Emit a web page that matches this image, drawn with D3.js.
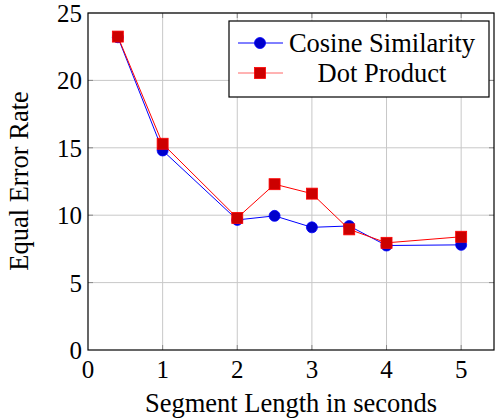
<!DOCTYPE html>
<html>
<head>
<meta charset="utf-8">
<script src="https://cdn.jsdelivr.net/npm/d3@7"></script>
<style>
body { margin: 0; background: #fff; }
text { font-family: "Liberation Serif", "DejaVu Serif", serif; fill: #000; }
</style>
</head>
<body>
<div id="chart"></div>
<script>
"use strict"
var width = 495,
	height = 419;

// data
var seglen = [0.4, 1, 2, 2.5, 3, 3.5, 4, 5];
var cosine = [23.2, 14.8, 9.65, 9.95, 9.1, 9.2, 7.75, 7.8];
var dotprod = [23.25, 15.3, 9.8, 12.3, 11.6, 8.95, 7.95, 8.4];
var xticks = [0, 1, 2, 3, 4, 5];
var yticks = [0, 5, 10, 15, 20, 25];
var names = ["Cosine Similarity", "Dot Product"];

var m = {l:88, r:494, t:13, b:350};
var fs = "25px",
	lfs = "26.5px";

var svg = d3.select("#chart").append("svg")
	.attr("width",width)
	.attr("height",height);

var x = d3.scaleLinear().domain([0,5.44]).range([m.l,m.r]);
var y = d3.scaleLinear().domain([0,25]).range([m.b,m.t]);

// grid
svg.append("g").selectAll("line").data(xticks.slice(1)).enter().append("line")
	.attr("x1",d=>x(d)).attr("x2",d=>x(d))
	.attr("y1",m.t).attr("y2",m.b)
	.style("stroke","#c8c8c8").style("stroke-width",1);
svg.append("g").selectAll("line").data(yticks.slice(1)).enter().append("line")
	.attr("x1",m.l).attr("x2",m.r)
	.attr("y1",d=>y(d)).attr("y2",d=>y(d))
	.style("stroke","#c8c8c8").style("stroke-width",1);

// inward ticks on all four sides
var tk = 5;
xticks.slice(1).forEach(function(d){
	svg.append("line").attr("x1",x(d)).attr("x2",x(d)).attr("y1",m.b).attr("y2",m.b-tk)
		.style("stroke","#888");
	svg.append("line").attr("x1",x(d)).attr("x2",x(d)).attr("y1",m.t).attr("y2",m.t+tk)
		.style("stroke","#888");
});
yticks.slice(1,-1).forEach(function(d){
	svg.append("line").attr("x1",m.l).attr("x2",m.l+tk).attr("y1",y(d)).attr("y2",y(d))
		.style("stroke","#888");
	svg.append("line").attr("x1",m.r).attr("x2",m.r-tk).attr("y1",y(d)).attr("y2",y(d))
		.style("stroke","#888");
});

// frame
svg.append("rect")
	.attr("x",m.l).attr("y",m.t)
	.attr("width",m.r-m.l).attr("height",m.b-m.t)
	.style("fill","none").style("stroke","#000").style("stroke-width",1.2);

// tick labels
svg.append("g").selectAll("text").data(xticks).enter().append("text")
	.attr("x",d=>x(d)).attr("y",m.b+28)
	.attr("text-anchor","middle")
	.style("font-size",fs)
	.text(d=>d);
svg.append("g").selectAll("text").data(yticks).enter().append("text")
	.attr("x",m.l-6).attr("y",d=>y(d)+9)
	.attr("text-anchor","end")
	.style("font-size",fs)
	.text(d=>d);

// axis labels
svg.append("text")
	.attr("x",291).attr("y",412)
	.attr("text-anchor","middle")
	.style("font-size",lfs)
	.text("Segment Length in seconds");
svg.append("text")
	.attr("transform","translate(28,181) rotate(-90)")
	.attr("text-anchor","middle")
	.style("font-size",lfs)
	.text("Equal Error Rate");

var line = d3.line().x(d=>x(d[0])).y(d=>y(d[1]));
var cosPts = seglen.map((d,i)=>[d,cosine[i]]);
var dotPts = seglen.map((d,i)=>[d,dotprod[i]]);

// cosine series
svg.append("path").datum(cosPts).attr("d",line)
	.style("fill","none").style("stroke","#0000ff").style("stroke-width",1);
svg.append("g").selectAll("circle").data(cosPts).enter().append("circle")
	.attr("cx",d=>x(d[0])).attr("cy",d=>y(d[1])).attr("r",5.5)
	.style("fill","#0000cc").style("stroke","#0000ff").style("stroke-width",0.8);

// dot product series
svg.append("path").datum(dotPts).attr("d",line)
	.style("fill","none").style("stroke","#ff0000").style("stroke-width",1);
svg.append("g").selectAll("rect").data(dotPts).enter().append("rect")
	.attr("x",d=>x(d[0])-5.5).attr("y",d=>y(d[1])-5.5)
	.attr("width",11).attr("height",11)
	.style("fill","#cc0000").style("stroke","#ff0000").style("stroke-width",0.8);

// legend
var lg = svg.append("g");
lg.append("rect").attr("x",229).attr("y",21).attr("width",260).attr("height",76)
	.style("fill","#fff").style("stroke","#000").style("stroke-width",1.2);
var ly = [43, 73];
lg.append("line").attr("x1",238).attr("x2",283).attr("y1",ly[0]).attr("y2",ly[0])
	.style("stroke","#0000ff");
lg.append("circle").attr("cx",260).attr("cy",ly[0]).attr("r",5.5)
	.style("fill","#0000cc").style("stroke","#0000ff").style("stroke-width",0.8);
lg.append("line").attr("x1",238).attr("x2",283).attr("y1",ly[1]).attr("y2",ly[1])
	.style("stroke","#ff6666");
lg.append("rect").attr("x",254.5).attr("y",ly[1]-5.5).attr("width",11).attr("height",11)
	.style("fill","#cc0000").style("stroke","#ff0000").style("stroke-width",0.8);
lg.selectAll("text.lab").data(names).enter().append("text")
	.attr("x",382).attr("y",(d,i)=>ly[i]+9)
	.attr("text-anchor","middle")
	.style("font-size",lfs)
	.text(d=>d);
</script>
</body>
</html>
